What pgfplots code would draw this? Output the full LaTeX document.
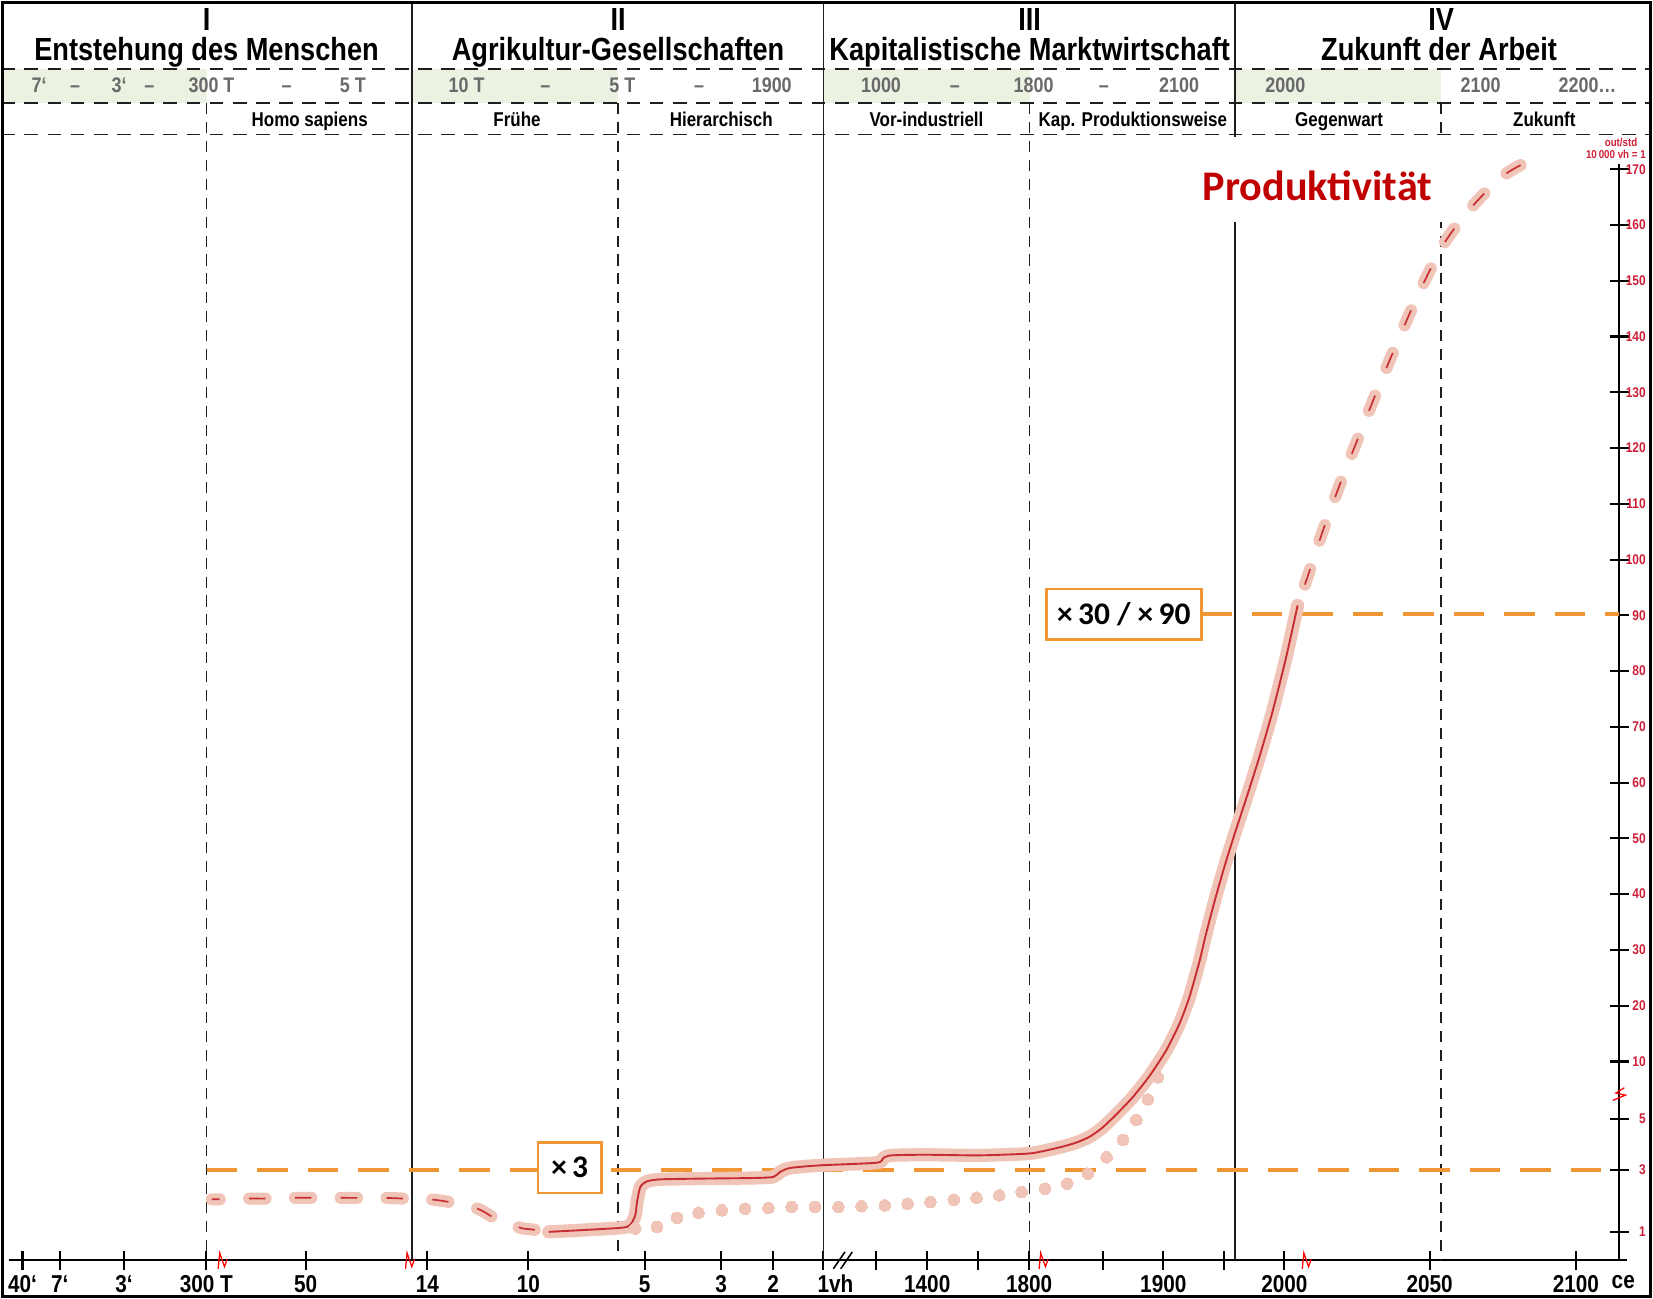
\documentclass[border=0pt]{standalone}
\usepackage{fontspec}
\setmainfont{Liberation Sans}[FakeStretch=0.85]
\newfontfamily\calib{Carlito}
\usepackage{pgfplots}
\pgfplotsset{compat=1.18}

\definecolor{halo}{RGB}{240,196,182}
\definecolor{curvered}{RGB}{200,45,50}
\definecolor{orng}{RGB}{240,150,50}
\definecolor{bandgreen}{RGB}{236,242,226}
\definecolor{txtgray}{RGB}{105,105,105}
\definecolor{tickred}{RGB}{205,30,55}
\definecolor{prodred}{RGB}{192,0,0}
\definecolor{linegray}{RGB}{30,30,30}
\newcommand{\fs}[1]{\fontsize{#1}{#1}\selectfont}
\tikzset{
  title/.style={anchor=base, inner sep=0pt, font=\bfseries\fs{8.65pt}},
  daterow/.style={anchor=base, inner sep=0pt, text=txtgray, font=\bfseries\fs{5.7pt}},
  subrow/.style={anchor=base, inner sep=0pt, font=\bfseries\fs{5.4pt}},
  eraline/.style={linegray, line width=0.16mm},
  subline/.style={linegray, line width=0.16mm, dash pattern=on 1.05mm off 0.75mm},
  brk/.style={red, line width=0.12mm},
}

\begin{document}
\begin{tikzpicture}
\begin{axis}[
  scale only axis, width=153mm, height=104.2mm,
  xmin=7, xmax=1537, ymin=-25.67, ymax=171,
  clip=false,
  axis x line=bottom, axis y line=right,
  axis line style={-, line width=0.2mm, black},
  scaled x ticks=false, scaled y ticks=false,
  tick align=center, major tick length=1.8mm,
  tick style={line width=0.2mm, black},
  xtick={20.1,55.5,116.5,194.8,289.2,404.8,500.7,611.2,684,733.3,781,830.8,879.7,928.2,976.5,1046.3,1104,1162,1219,1357,1496},
  xticklabels={40‘,7‘,3‘,300 T,50,14,10,5,3,2,1\rlap{vh},{},1400,{},1800,{},1900,{},2000,2050,2100},
  xticklabel style={anchor=base, yshift=-2.15mm, inner sep=0pt, font=\bfseries\fs{6.6pt}},
  ytick={-20.58,-9.4,-0.35,10,20,30,40,50,60,70,80,90,100,110,120,130,140,150,160,170},
  yticklabels={1,3,5,10,20,30,40,50,60,70,80,90,100,110,120,130,140,150,160,170},
  yticklabel style={anchor=east, xshift=1.7mm, inner sep=0pt, text=tickred, font=\bfseries\fs{3.8pt}},
]
% green bands in the date row
\fill[bandgreen] (axis cs:1.5,187.93) rectangle (axis cs:195,181.89);
\fill[bandgreen] (axis cs:390,187.93) rectangle (axis cs:586,181.89);
\fill[bandgreen] (axis cs:781,187.93) rectangle (axis cs:977,181.89);
\fill[bandgreen] (axis cs:1172,187.93) rectangle (axis cs:1368,181.89);
% header dashed lines
\draw[linegray, line width=0.15mm, dash pattern=on 1.3mm off 0.9mm] (axis cs:0,187.93) -- (axis cs:1568,187.93);
\draw[linegray, line width=0.25mm, dash pattern=on 1.3mm off 0.9mm] (axis cs:0,181.89) -- (axis cs:1568,181.89);
\draw[linegray, line width=0.15mm, dash pattern=on 1.3mm off 0.9mm] (axis cs:0,176.23) -- (axis cs:1568,176.23);
% era lines
\draw[eraline] (axis cs:390,200.19) -- (axis cs:390,-25.67);
\draw[eraline] (axis cs:781,200.19) -- (axis cs:781,-25.67);
\draw[eraline] (axis cs:1172,200.19) -- (axis cs:1172,-25.67);
\draw[subline] (axis cs:195,181.89) -- (axis cs:195,-25.67);
\draw[subline] (axis cs:586,181.89) -- (axis cs:586,-25.67);
\draw[subline] (axis cs:977,181.89) -- (axis cs:977,-25.67);
\draw[subline] (axis cs:1368,181.89) -- (axis cs:1368,-25.67);
% titles
\node[title] at (axis cs:195,194.9) {I};
\node[title] at (axis cs:195,189.43) {Entstehung des Menschen};
\node[title] at (axis cs:586,194.9) {II};
\node[title] at (axis cs:586,189.43) {Agrikultur-Gesellschaften};
\node[title] at (axis cs:977,194.9) {III};
\node[title] at (axis cs:977,189.43) {Kapitalistische Marktwirtschaft};
\node[title] at (axis cs:1368,194.9) {IV};
\node[title] at (axis cs:1366,189.43) {Zukunft der Arbeit};
% date row
\node[daterow] at (axis cs:36,183.77) {7‘};
\node[daterow] at (axis cs:70,183.77) {–};
\node[daterow] at (axis cs:112,183.77) {3‘};
\node[daterow] at (axis cs:140.6,183.77) {–};
\node[daterow] at (axis cs:199.7,183.77) {300 T};
\node[daterow] at (axis cs:271,183.77) {–};
\node[daterow] at (axis cs:334,183.77) {5 T};
\node[daterow] at (axis cs:442,183.77) {10 T};
\node[daterow] at (axis cs:517,183.77) {–};
\node[daterow] at (axis cs:590,183.77) {5 T};
\node[daterow] at (axis cs:663,183.77) {–};
\node[daterow] at (axis cs:732,183.77) {1900};
\node[daterow] at (axis cs:835.8,183.77) {1000};
\node[daterow] at (axis cs:906,183.77) {–};
\node[daterow] at (axis cs:980.7,183.77) {1800};
\node[daterow] at (axis cs:1047.5,183.77) {–};
\node[daterow] at (axis cs:1119,183.77) {2100};
\node[daterow] at (axis cs:1220,183.77) {2000};
\node[daterow] at (axis cs:1405.5,183.77) {2100};
\node[daterow] at (axis cs:1507,183.77) {2200\ldots};
% sub-period row
\node[subrow] at (axis cs:293,177.74) {Homo sapiens};
\node[subrow] at (axis cs:490,177.74) {Frühe};
\node[subrow] at (axis cs:684,177.74) {Hierarchisch};
\node[subrow] at (axis cs:879,177.74) {Vor-industriell};
\node[subrow] at (axis cs:1075,177.74) {Kap. Produktionsweise};
\node[subrow] at (axis cs:1271,177.74) {Gegenwart};
\node[subrow] at (axis cs:1466,177.74) {Zukunft};
% unit label
\node[anchor=base east, inner sep=0pt, text=tickred, font=\bfseries\fs{3.1pt}] at (axis cs:1555,174.0) {out/std};
\node[anchor=base east, inner sep=0pt, text=tickred, font=\bfseries\fs{3.1pt}] at (axis cs:1563,171.9) {10\,000 vh = 1};
% x axis extras
\draw[black, line width=0.2mm] (axis cs:1537,-25.67) -- (axis cs:1545,-25.67);
\node[anchor=base, inner sep=0pt, font=\bfseries\fs{6.6pt}] at (axis cs:1541,-30.75) {ce};
\draw[black, line width=0.15mm] (axis cs:796,-25.67) ++(-0.55mm,-0.8mm) -- ++(1.1mm,1.6mm);
\draw[black, line width=0.15mm] (axis cs:803,-25.67) ++(-0.55mm,-0.8mm) -- ++(1.1mm,1.6mm);
\draw[brk] (axis cs:210,-25.67) ++(-0.4mm,-0.8mm) -- ++(0.15mm,1.5mm) -- ++(0.45mm,-1.3mm) -- ++(0.25mm,0.7mm);
\draw[brk] (axis cs:388,-25.67) ++(-0.4mm,-0.8mm) -- ++(0.15mm,1.5mm) -- ++(0.45mm,-1.3mm) -- ++(0.25mm,0.7mm);
\draw[brk] (axis cs:990,-25.67) ++(-0.4mm,-0.8mm) -- ++(0.15mm,1.5mm) -- ++(0.45mm,-1.3mm) -- ++(0.25mm,0.7mm);
\draw[brk] (axis cs:1240,-25.67) ++(-0.4mm,-0.8mm) -- ++(0.15mm,1.5mm) -- ++(0.45mm,-1.3mm) -- ++(0.25mm,0.7mm);
\draw[brk] (axis cs:1537,3.96) ++(-0.6mm,-0.5mm) -- ++(1.2mm,0.5mm) -- ++(-0.9mm,0.2mm) -- ++(0.8mm,0.5mm);
% orange reference lines and boxes
\draw[orng, line width=0.38mm, dash pattern=on 2.9mm off 1.9mm] (axis cs:195,-9.4) -- (axis cs:1537,-9.4);
\draw[orng, line width=0.38mm, dash pattern=on 2.9mm off 1.9mm] (axis cs:1140,90.2) -- (axis cs:1537,90.2);
\node[draw=orng, line width=0.25mm, fill=white, minimum width=6mm, minimum height=4.8mm, inner sep=0pt, font=\calib\bfseries\fs{8.5pt}] at (axis cs:540,-9.07) {×\,3};
\node[draw=orng, line width=0.25mm, fill=white, minimum width=14.7mm, minimum height=4.8mm, inner sep=0pt, font=\calib\bfseries\fs{8.5pt}] at (axis cs:1066.5,90.2) {×\,30 / ×\,90};
% Produktivitaet label
\fill[white] (axis cs:1128,175.85) rectangle (axis cs:1376,160.57);
\node[anchor=base, inner sep=0pt, text=prodred, font=\calib\bfseries\fs{11.4pt}] at (axis cs:1250.5,164.34) {Produktivität};

% dotted series
\addplot[halo, only marks, mark=*, mark size=0.55mm, mark options={draw=halo, fill=halo, line width=0pt}] coordinates {
(602.3,-19.97)(622.9,-19.67)(642,-18.05)(662.4,-17.11)(684.6,-16.69)(706.7,-16.39)(728.8,-16.26)(751,-16.09)(773.1,-16.09)(795.3,-16.09)(817.2,-15.97)(839.4,-15.81)(861,-15.5)(882.7,-15.2)(904.9,-14.79)(926.5,-14.43)(948.2,-14.01)(969.4,-13.41)(991.6,-12.81)(1012.7,-11.92)(1032.3,-10.13)(1050.1,-7.19)(1065.6,-4.09)(1078.3,-0.48)(1089.3,3.19)(1098.8,7.16)
};
% left dashed series
\addplot[halo, line width=1.15mm, line cap=round, dash pattern=on 1.55mm off 2.8mm, dash phase=0.8mm, smooth] coordinates {
(200,-14.72)(212,-14.72)(234,-14.59)(251.4,-14.59)(276.7,-14.46)(338.4,-14.46)(363.6,-14.46)(382.6,-14.59)(406.3,-14.72)(425.3,-15.2)(452.2,-16.38)(469.6,-18.17)(493.3,-19.84)(502.7,-20.09)(520.1,-20.56)
};
\addplot[curvered, line width=0.16mm, dash pattern=on 1.55mm off 2.8mm, dash phase=0.8mm, smooth] coordinates {
(200,-14.72)(212,-14.72)(234,-14.59)(251.4,-14.59)(276.7,-14.46)(338.4,-14.46)(363.6,-14.46)(382.6,-14.59)(406.3,-14.72)(425.3,-15.2)(452.2,-16.38)(469.6,-18.17)(493.3,-19.84)(502.7,-20.09)(520.1,-20.56)
};
% upper dashed series
\addplot[halo, line width=1.15mm, line cap=round, dash pattern=on 1.55mm off 2.85mm, dash phase=2.3mm, smooth] coordinates {
(1231.6,91.77)(1241.7,97.28)(1255.9,105.33)(1273,114.09)(1291,122.69)(1310,131.64)(1329.9,140.58)(1349.8,149.0)(1372.6,157.23)(1399.2,163.68)(1428.6,169.06)(1461.8,172.45)(1469.4,172.72)
};
\addplot[curvered, line width=0.16mm, dash pattern=on 1.55mm off 2.85mm, dash phase=2.3mm, smooth] coordinates {
(1231.6,91.77)(1241.7,97.28)(1255.9,105.33)(1273,114.09)(1291,122.69)(1310,131.64)(1329.9,140.58)(1349.8,149.0)(1372.6,157.23)(1399.2,163.68)(1428.6,169.06)(1461.8,172.45)(1469.4,172.72)
};
% solid series
\addplot[halo, line width=1.25mm, line cap=round, line join=round, smooth, tension=0.4] coordinates {
(520.1,-20.56)(588.1,-19.84)(597.6,-19.26)(602.3,-17.58)(604,-15.18)(607.1,-12.51)(613.4,-11.51)(626.1,-11.14)(664,-11.01)(714.6,-10.9)(733.5,-10.71)(739.9,-9.82)(749.4,-9.1)(777.8,-8.63)(831.6,-8.16)(837.9,-7.31)(845.9,-6.84)(878.4,-6.73)(929,-6.84)(974.4,-6.54)(989.4,-6.1)(1009.7,-5.2)(1022,-4.5)(1034,-3.5)(1046,-1.9)(1059.3,0.5)(1075,3.6)(1090.9,7.4)(1106.7,11.97)(1119.3,16.74)(1128.8,21.56)(1138.3,27.9)(1144.6,32.9)(1154.1,39.7)(1163.6,45.9)(1173.1,51.58)(1182.6,57.05)(1195.2,64.56)(1207.8,72.77)(1220.5,82.33)(1231.6,91.77)
};
\addplot[curvered, line width=0.18mm, line join=round, smooth, tension=0.4] coordinates {
(520.1,-20.56)(588.1,-19.84)(597.6,-19.26)(602.3,-17.58)(604,-15.18)(607.1,-12.51)(613.4,-11.51)(626.1,-11.14)(664,-11.01)(714.6,-10.9)(733.5,-10.71)(739.9,-9.82)(749.4,-9.1)(777.8,-8.63)(831.6,-8.16)(837.9,-7.31)(845.9,-6.84)(878.4,-6.73)(929,-6.84)(974.4,-6.54)(989.4,-6.1)(1009.7,-5.2)(1022,-4.5)(1034,-3.5)(1046,-1.9)(1059.3,0.5)(1075,3.6)(1090.9,7.4)(1106.7,11.97)(1119.3,16.74)(1128.8,21.56)(1138.3,27.9)(1144.6,32.9)(1154.1,39.7)(1163.6,45.9)(1173.1,51.58)(1182.6,57.05)(1195.2,64.56)(1207.8,72.77)(1220.5,82.33)(1231.6,91.77)
};
% outer frame
\draw[black, line width=0.3mm] (axis cs:1.5,199.91) rectangle (axis cs:1566.5,-32.18);
\end{axis}
\end{tikzpicture}
\end{document}
